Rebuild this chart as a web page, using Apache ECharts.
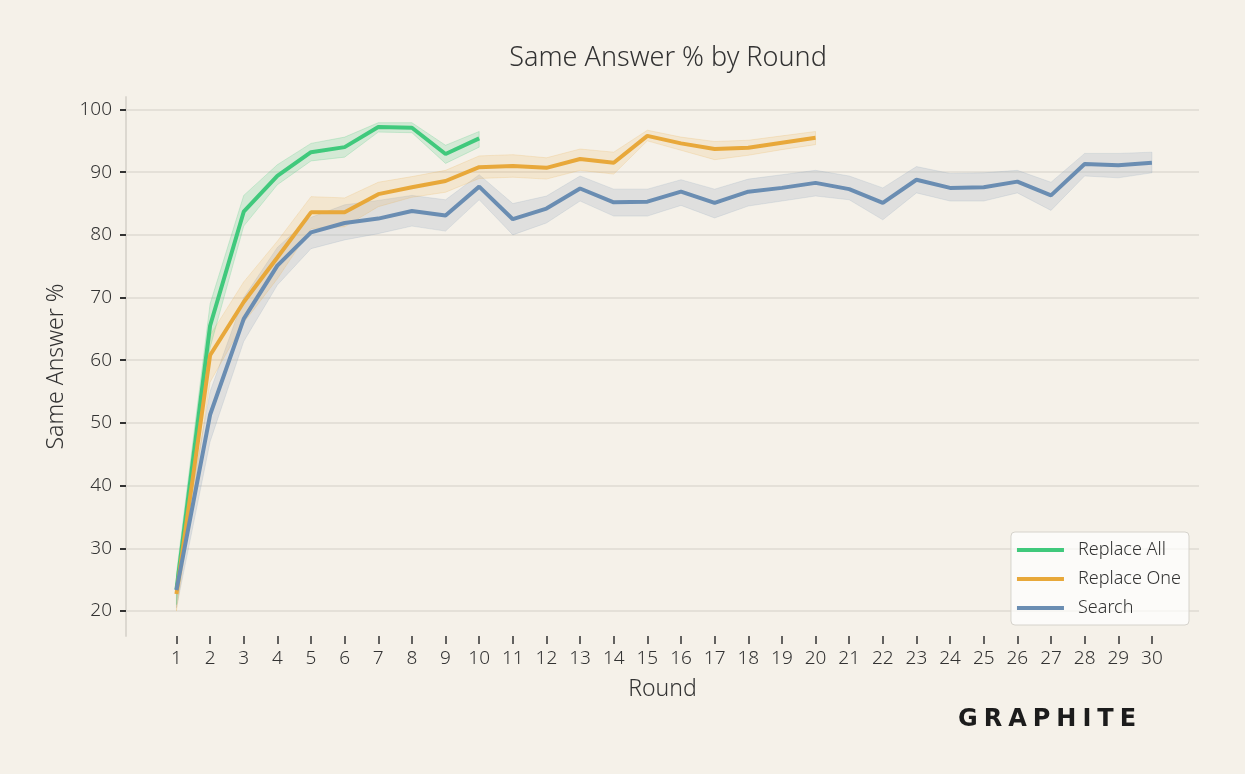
<!DOCTYPE html>
<html>
<head>
<meta charset="utf-8">
<script src="https://cdn.jsdelivr.net/npm/echarts@6/dist/echarts.min.js"></script>
<style>
	html, body { margin: 0; padding: 0; background: #f5f1e9; }
	#chart { width: 1245px; height: 774px; }
	.logo {
		position: absolute;
		left: 958px;
		top: 704px;
		font-family: "DejaVu Sans", sans-serif;
		font-weight: bold;
		font-size: 24px;
		letter-spacing: 6px;
		color: #1c1c1c;
	}
</style>
</head>
<body>
<div id="chart"></div>
<div class="logo">GRAPHITE</div>
<script>
	// 轮次
	const rounds = [1, 2, 3, 4, 5, 6, 7, 8, 9, 10, 11, 12, 13, 14, 15, 16, 17, 18, 19, 20,
		21, 22, 23, 24, 25, 26, 27, 28, 29, 30];
	const yTicks = [20, 30, 40, 50, 60, 70, 80, 90, 100];

	// Replace All
	const replaceAll = [23.4, 65.5, 83.7, 89.4, 93.2, 94.0, 97.2, 97.1, 92.9, 95.4];
	const replaceAllLow = [21.0, 62.0, 81.4, 88.0, 91.8, 92.4, 96.4, 96.3, 91.4, 94.0];
	const replaceAllHigh = [26.0, 69.0, 86.3, 91.2, 94.6, 95.6, 97.9, 97.9, 94.3, 96.5];

	// Replace One
	const replaceOne = [22.7, 60.8, 69.3, 76.4, 83.6, 83.6, 86.5, 87.6, 88.6, 90.8,
		91.0, 90.7, 92.1, 91.5, 95.8, 94.6, 93.7, 93.9, 94.7, 95.5];
	const replaceOneLow = [20.0, 56.5, 66.0, 73.0, 81.0, 81.3, 84.5, 86.0, 86.8, 89.0,
		89.2, 88.9, 90.3, 89.7, 95.0, 93.5, 92.0, 92.7, 93.6, 94.4];
	const replaceOneHigh = [25.0, 64.0, 72.5, 79.0, 86.1, 85.9, 88.4, 89.3, 90.3, 92.6,
		92.8, 92.3, 93.7, 93.2, 96.7, 95.6, 94.9, 95.1, 95.8, 96.5];

	// Search
	const search = [23.3, 51.3, 66.6, 75.1, 80.4, 81.9, 82.6, 83.8, 83.1, 87.7,
		82.5, 84.2, 87.4, 85.2, 85.3, 86.9, 85.1, 86.9, 87.5, 88.3,
		87.3, 85.1, 88.8, 87.5, 87.6, 88.5, 86.3, 91.3, 91.1, 91.5];
	const searchLow = [20.5, 47.0, 63.0, 72.0, 77.8, 79.2, 80.2, 81.4, 80.6, 85.6,
		80.0, 81.9, 85.4, 83.0, 83.0, 84.7, 82.7, 84.6, 85.4, 86.2,
		85.6, 82.4, 86.7, 85.4, 85.4, 86.7, 83.9, 89.4, 89.1, 89.9];
	const searchHigh = [25.5, 55.0, 70.0, 78.0, 82.8, 84.8, 85.5, 86.3, 85.6, 89.6,
		85.0, 86.2, 89.4, 87.3, 87.3, 88.8, 87.3, 88.9, 89.6, 90.3,
		89.4, 87.5, 90.9, 89.8, 89.9, 90.3, 88.4, 93.0, 93.0, 93.2];

	const fontFamily = '"Noto Sans", "Open Sans", sans-serif';
	const textColor = "#333333";

	function pairs(values) {
		return values.map((v, i) => [rounds[i], v]);
	}

	// 置信区间：用 custom 系列画一个多边形（上沿 → 下沿）
	function band(name, low, high, fill, edge) {
		return {
			name: name + " band",
			type: "custom",
			silent: true,
			z: 1,
			encode: { x: 0, y: [1, 2] },
			data: low.map((v, i) => [rounds[i], v, high[i]]),
			renderItem(params, api) {
				if (params.dataIndex !== 0) {
					return null;
				}
				const n = params.dataInsideLength;
				const top = [];
				const bottom = [];
				for (let i = 0; i < n; i++) {
					const x = api.value(0, i);
					top.push(api.coord([x, api.value(2, i)]));
					bottom.unshift(api.coord([x, api.value(1, i)]));
				}
				return {
					type: "polygon",
					shape: { points: top.concat(bottom) },
					style: { fill: fill, stroke: edge, lineWidth: 1 },
				};
			},
		};
	}

	function mainLine(name, values, color) {
		return {
			name: name,
			type: "line",
			data: pairs(values),
			symbol: "none",
			lineStyle: { color: color, width: 4 },
			itemStyle: { color: color },
			z: 3,
		};
	}

	const chart = echarts.init(document.getElementById("chart"));

	const option = {
		backgroundColor: "#f5f1e9",
		animation: false,
		title: {
			text: "Same Answer % by Round",
			left: 663,
			textAlign: "center",
			top: 40,
			textStyle: {
				fontFamily: fontFamily,
				fontWeight: 300,
				fontSize: 27,
				color: textColor,
			},
		},
		legend: {
			data: ["Replace All", "Replace One", "Search"],
			orient: "vertical",
			right: 56,
			top: 532,
			padding: [9, 8, 8, 6],
			itemWidth: 47,
			itemHeight: 4,
			itemGap: 11,
			icon: "rect",
			backgroundColor: "rgba(255,255,255,0.7)",
			borderColor: "#d6d3cc",
			borderWidth: 1,
			borderRadius: 4,
			textStyle: {
				fontFamily: fontFamily,
				fontWeight: 300,
				fontSize: 18,
				lineHeight: 18,
				color: textColor,
				padding: [0, 0, 0, 9],
			},
		},
		grid: {
			left: 126,
			right: 46,
			top: 97,
			bottom: 138,
			containLabel: false,
			outerBoundsMode: "none",
		},
		xAxis: {
			type: "value",
			min: -0.5,
			max: 31.4,
			name: "Round",
			nameLocation: "middle",
			nameGap: 42,
			nameMoveOverlap: false,
			nameTextStyle: {
				fontFamily: fontFamily,
				fontWeight: 300,
				fontSize: 23,
				color: textColor,
			},
			axisLine: { show: false, onZero: false },
			splitLine: { show: false },
			axisTick: {
				show: true,
				length: 8,
				customValues: rounds,
				lineStyle: { color: "#333333", width: 1.5 },
			},
			axisLabel: {
				customValues: rounds,
				margin: 13,
				fontFamily: fontFamily,
				fontWeight: 300,
				fontSize: 19,
				color: textColor,
			},
		},
		yAxis: {
			type: "value",
			min: 16,
			max: 102,
			name: "Same Answer %",
			nameLocation: "middle",
			nameGap: 58,
			nameMoveOverlap: false,
			nameTextStyle: {
				fontFamily: fontFamily,
				fontWeight: 300,
				fontSize: 23,
				color: textColor,
			},
			axisLine: {
				show: true,
				onZero: false,
				lineStyle: { color: "#dcd8d0", width: 2 },
			},
			axisTick: {
				show: true,
				length: 6,
				customValues: yTicks,
				lineStyle: { color: "#333333", width: 2 },
			},
			axisLabel: {
				customValues: yTicks,
				margin: 14,
				fontFamily: fontFamily,
				fontWeight: 300,
				fontSize: 19,
				color: textColor,
			},
			splitLine: {
				show: true,
				lineStyle: { color: "#dedad2", width: 1.5 },
			},
		},
		series: [
			band("Search", searchLow, searchHigh, "rgba(178,188,200,0.32)", "rgba(106,141,176,0.15)"),
			band("Replace One", replaceOneLow, replaceOneHigh, "rgba(232,168,58,0.15)", "rgba(232,168,58,0.18)"),
			band("Replace All", replaceAllLow, replaceAllHigh, "rgba(64,201,124,0.18)", "rgba(64,201,124,0.22)"),
			mainLine("Replace All", replaceAll, "#40c97c"),
			mainLine("Replace One", replaceOne, "#e8a83a"),
			mainLine("Search", search, "#6a8db2"),
		],
	};

	chart.setOption(option);
</script>
</body>
</html>
